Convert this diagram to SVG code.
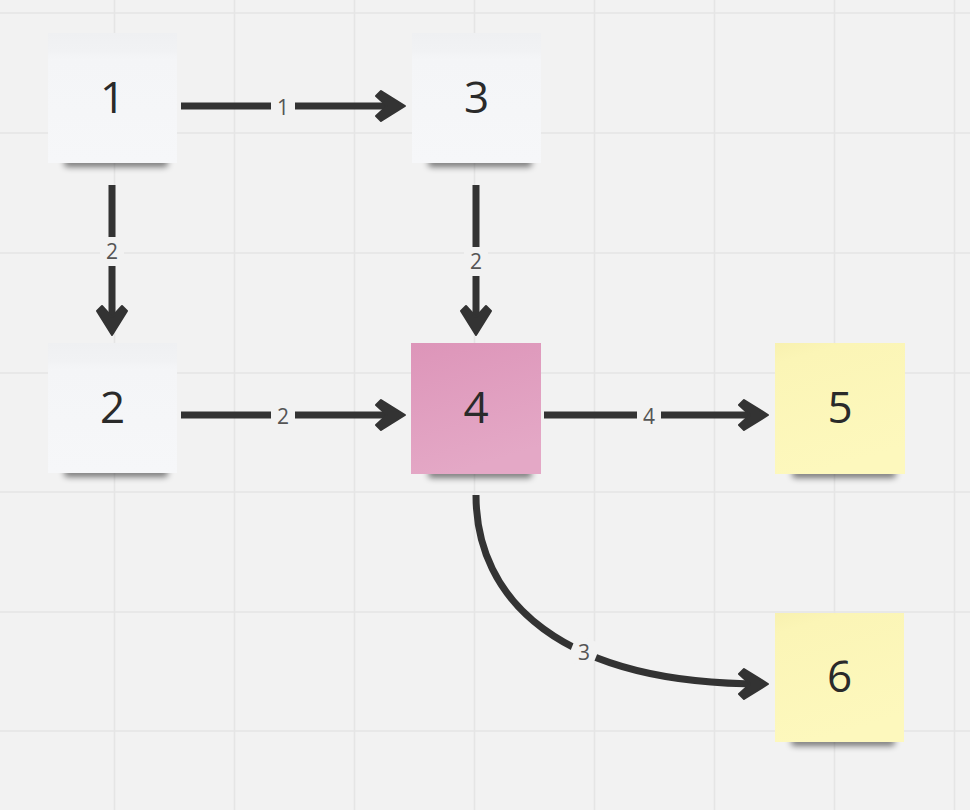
<svg xmlns="http://www.w3.org/2000/svg" width="970" height="810" viewBox="0 0 970 810">
  <defs>
    <style>
      .grid line { stroke: #e5e5e5; stroke-width: 1.6; }
      .node-text { font-family: "Open Sans", "Liberation Sans", sans-serif; font-size: 44px; fill: #2a2a2a; text-anchor: middle; }
      .edge { fill: none; stroke: #333; stroke-width: 7; }
      .lbl-bg { fill: #f2f2f2; }
      .lbl { font-family: "Open Sans", "Liberation Sans", sans-serif; font-size: 21px; fill: #555; text-anchor: middle; }
      .shadow { fill: #000; opacity: 0.5; filter: url(#blur); }
    </style>
    <filter id="blur" x="-20%" y="-100%" width="140%" height="300%">
      <feGaussianBlur stdDeviation="3.2"/>
    </filter>
    <linearGradient id="gWhite" x1="0" y1="0" x2="0" y2="1">
      <stop offset="0" stop-color="#eff0f2"/>
      <stop offset="0.14" stop-color="#f1f2f4"/>
      <stop offset="0.2" stop-color="#f4f5f7"/>
      <stop offset="1" stop-color="#f6f7f9"/>
    </linearGradient>
    <linearGradient id="gPink" x1="0" y1="0" x2="0.3" y2="1">
      <stop offset="0" stop-color="#dd95b9"/>
      <stop offset="1" stop-color="#e4a8c6"/>
    </linearGradient>
    <linearGradient id="gYellow" x1="0" y1="0" x2="0.3" y2="1">
      <stop offset="0" stop-color="#f8f1b0"/>
      <stop offset="0.15" stop-color="#fbf5b6"/>
      <stop offset="1" stop-color="#fdf8bd"/>
    </linearGradient>
    <marker id="arrow" markerUnits="userSpaceOnUse" markerWidth="40" markerHeight="40" viewBox="-30 -20 40 40" refX="0" refY="0" orient="auto" overflow="visible">
      <path d="M5,0 L-19,-15 L-24,-10 L-13,0 L-24,10 L-19,15 Z" fill="#333" stroke="#333" stroke-width="2" stroke-linejoin="round"/>
    </marker>
  </defs>

  <rect x="0" y="0" width="970" height="810" fill="#f2f2f2"/>

  <g class="grid">
    <line x1="114.5" y1="0" x2="114.5" y2="810"/>
    <line x1="234.5" y1="0" x2="234.5" y2="810"/>
    <line x1="354.5" y1="0" x2="354.5" y2="810"/>
    <line x1="474.5" y1="0" x2="474.5" y2="810"/>
    <line x1="594.5" y1="0" x2="594.5" y2="810"/>
    <line x1="714.5" y1="0" x2="714.5" y2="810"/>
    <line x1="834.5" y1="0" x2="834.5" y2="810"/>
    <line x1="954.5" y1="0" x2="954.5" y2="810"/>
    <line x1="0" y1="13" x2="970" y2="13"/>
    <line x1="0" y1="133" x2="970" y2="133"/>
    <line x1="0" y1="253" x2="970" y2="253"/>
    <line x1="0" y1="373" x2="970" y2="373"/>
    <line x1="0" y1="492" x2="970" y2="492"/>
    <line x1="0" y1="612" x2="970" y2="612"/>
    <line x1="0" y1="731" x2="970" y2="731"/>
  </g>

  <g id="node-1">
    <rect class="shadow" x="64" y="158" width="104" height="9" rx="4"/>
    <rect x="48" y="33" width="129" height="130" fill="url(#gWhite)"/>
    <text class="node-text" x="112.5" y="113">1</text>
  </g>
  <g id="node-3">
    <rect class="shadow" x="428" y="158" width="104" height="9" rx="4"/>
    <rect x="412" y="33" width="129" height="130" fill="url(#gWhite)"/>
    <text class="node-text" x="476.5" y="113">3</text>
  </g>
  <g id="node-2">
    <rect class="shadow" x="64" y="468" width="104" height="9" rx="4"/>
    <rect x="48" y="343" width="129" height="130" fill="url(#gWhite)"/>
    <text class="node-text" x="112.5" y="423">2</text>
  </g>
  <g id="node-4">
    <rect class="shadow" x="428" y="469" width="104" height="9" rx="4"/>
    <rect x="411" y="343" width="130" height="131" fill="url(#gPink)"/>
    <text class="node-text" x="476" y="423">4</text>
  </g>
  <g id="node-5">
    <rect class="shadow" x="792" y="469" width="104" height="9" rx="4"/>
    <rect x="775" y="343" width="130" height="131" fill="url(#gYellow)"/>
    <text class="node-text" x="840" y="423">5</text>
  </g>
  <g id="node-6">
    <rect class="shadow" x="791" y="737" width="104" height="9" rx="4"/>
    <rect x="775" y="613" width="129" height="129" fill="url(#gYellow)"/>
    <text class="node-text" x="839.5" y="692">6</text>
  </g>

  <g id="connectors">
    <path class="edge" d="M181,106 H400" marker-end="url(#arrow)"/>
    <rect class="lbl-bg" x="271" y="96" width="24" height="22"/>
    <text class="lbl" x="283" y="115">1</text>

    <path class="edge" d="M112,185 V330" marker-end="url(#arrow)"/>
    <rect class="lbl-bg" x="100" y="237" width="24" height="29"/>
    <text class="lbl" x="112" y="259">2</text>

    <path class="edge" d="M476,185 V330" marker-end="url(#arrow)"/>
    <rect class="lbl-bg" x="464" y="247" width="24" height="29"/>
    <text class="lbl" x="476" y="269">2</text>

    <path class="edge" d="M181,415 H400" marker-end="url(#arrow)"/>
    <rect class="lbl-bg" x="271" y="405" width="24" height="22"/>
    <text class="lbl" x="283" y="424">2</text>

    <path class="edge" d="M544,415 H763" marker-end="url(#arrow)"/>
    <rect class="lbl-bg" x="637" y="405" width="24" height="22"/>
    <text class="lbl" x="649" y="424">4</text>

    <path class="edge" d="M476,495 C476,600 560,684 763,684" marker-end="url(#arrow)"/>
    <rect class="lbl-bg" x="571" y="638" width="26" height="28" transform="rotate(22 584 652)"/>
    <text class="lbl" x="584" y="660">3</text>
  </g>
</svg>
